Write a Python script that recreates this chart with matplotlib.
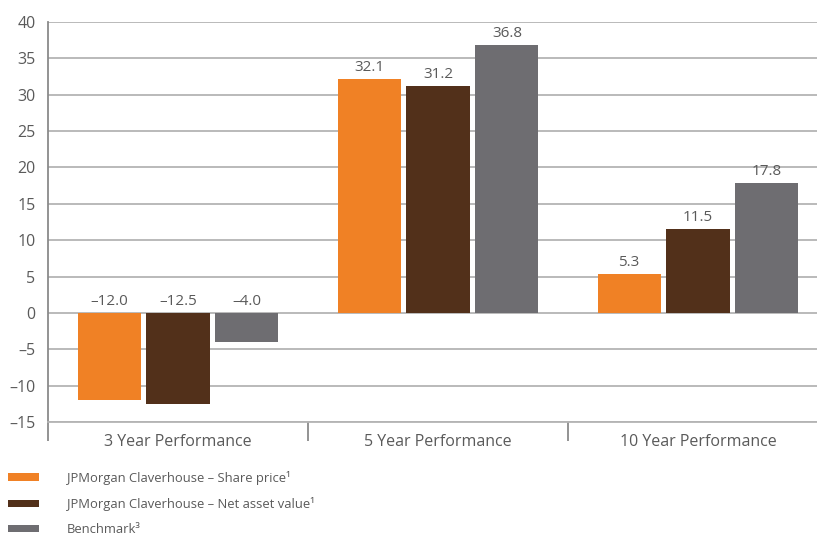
import numpy as np
import matplotlib.pyplot as plt
from matplotlib.patches import Patch

plt.rcParams['font.family'] = ['Open Sans', 'DejaVu Sans']

categories = ['3 Year Performance', '5 Year Performance', '10 Year Performance']
share_price = [-12.0, 32.1, 5.3]
net_asset_value = [-12.5, 31.2, 11.5]
benchmark = [-4.0, 36.8, 17.8]
series_labels = ['JPMorgan Claverhouse – Share price¹',
                 'JPMorgan Claverhouse – Net asset value¹',
                 'Benchmark³']
colors = ['#F08125', '#52301A', '#6E6D71']
TEXT = '#5a5a5a'
GRID = '#b4b4b4'

fig = plt.figure(figsize=(8.17, 5.43), dpi=100)
ax = fig.add_axes([48 / 817, 121 / 543, 780 / 817, 400 / 543])

x = np.arange(len(categories))
width = 0.243
step = 0.265
for i, (vals, c) in enumerate(zip([share_price, net_asset_value, benchmark], colors)):
    pos = x + (i - 1) * step
    ax.bar(pos, vals, width, color=c, zorder=3)
    for p, v in zip(pos, vals):
        ax.annotate(f'{v:.1f}'.replace('-', '–'), (p, max(v, 0)),
                    xytext=(0, 3), textcoords='offset points',
                    ha='center', va='bottom', fontsize=11, color=TEXT)

ax.set_xlim(-0.5, 2.5)
ax.set_ylim(-15, 40)
ax.set_yticks(np.arange(-15, 41, 5))
ax.set_yticklabels([str(t).replace('-', '–') for t in range(-15, 41, 5)])
ax.yaxis.grid(True, color=GRID, lw=1.3, zorder=0)
ax.tick_params(axis='y', length=0, pad=9, labelsize=11.5, labelcolor=TEXT)

# category dividers as major ticks, names as minor ticks
ax.set_xticks([-0.5, 0.5, 1.5, 2.5])
ax.set_xticklabels([])
ax.tick_params(axis='x', which='major', length=14, width=1.3, color='#8a8a8a')
ax.set_xticks(x, minor=True)
ax.set_xticklabels(categories, minor=True)
ax.tick_params(axis='x', which='minor', length=0, pad=9, labelsize=11.5, labelcolor=TEXT)

for s in ['top', 'right']:
    ax.spines[s].set_visible(False)
ax.spines['left'].set_color('#8a8a8a')
ax.spines['left'].set_linewidth(1.3)
ax.spines['bottom'].set_color(GRID)
ax.spines['bottom'].set_linewidth(1.3)

handles = [Patch(facecolor=c, edgecolor='none') for c in colors]
fig.legend(handles, series_labels, loc='upper left', bbox_to_anchor=(0.004, 0.143),
           frameon=False, fontsize=9.4, labelcolor=TEXT, handlelength=2.35,
           handleheight=0.5, handletextpad=2.1, labelspacing=0.95,
           borderaxespad=0)

fig.savefig('out.png', dpi=100)
